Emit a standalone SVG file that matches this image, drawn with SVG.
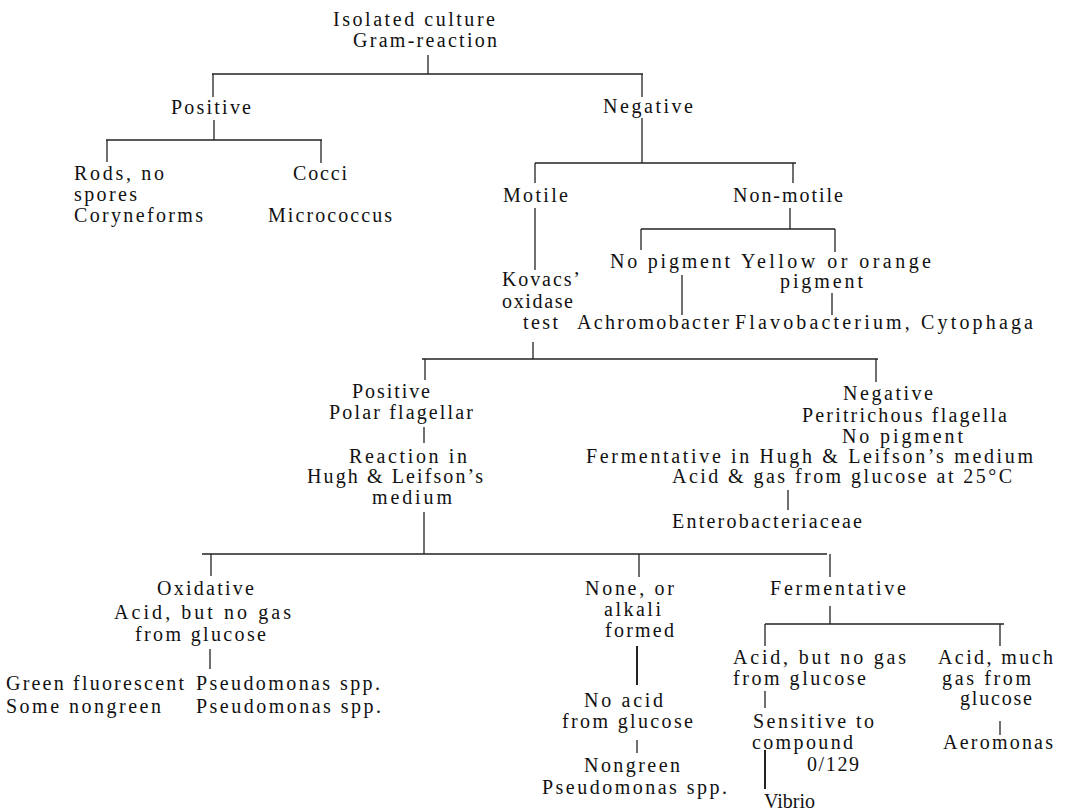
<svg xmlns="http://www.w3.org/2000/svg" width="1067" height="812" viewBox="0 0 1067 812">
<style>
text{font-family:"Liberation Serif","Times New Roman",serif;font-size:20px;fill:#111;}
.c line{stroke:#222;stroke-width:1.3;fill:none;}
.c line.b{stroke-width:2;}
</style>
<rect width="1067" height="812" fill="#fff"/>
<g id="connectors" class="c">
<line x1="428" y1="55" x2="428" y2="74"/>
<line x1="212" y1="74" x2="643" y2="74"/>
<line x1="213" y1="74" x2="213" y2="97"/>
<line x1="642" y1="74" x2="642" y2="97"/>
<line x1="214" y1="120" x2="214" y2="140"/>
<line x1="106" y1="140" x2="322" y2="140"/>
<line x1="107" y1="140" x2="107" y2="162"/>
<line x1="321" y1="140" x2="321" y2="163"/>
<line x1="642" y1="118" x2="642" y2="163"/>
<line x1="535" y1="163" x2="796" y2="163"/>
<line x1="535" y1="163" x2="535" y2="183"/>
<line x1="793" y1="163" x2="793" y2="183"/>
<line x1="535" y1="208" x2="535" y2="270"/>
<line x1="790" y1="208" x2="790" y2="229"/>
<line x1="641" y1="229" x2="835" y2="229"/>
<line x1="641" y1="229" x2="641" y2="250"/>
<line x1="835" y1="229" x2="835" y2="252"/>
<line x1="682" y1="275" x2="682" y2="315"/>
<line x1="832" y1="293" x2="832" y2="315"/>
<line x1="533" y1="342" x2="533" y2="359"/>
<line x1="422" y1="359" x2="878" y2="359"/>
<line x1="425" y1="359" x2="425" y2="380"/>
<line x1="876" y1="359" x2="876" y2="382"/>
<line x1="424" y1="427" x2="424" y2="443"/>
<line x1="424" y1="512" x2="424" y2="554"/>
<line x1="788" y1="490" x2="788" y2="510"/>
<line x1="202" y1="554" x2="827" y2="554"/>
<line x1="211" y1="554" x2="211" y2="576"/>
<line x1="639" y1="554" x2="639" y2="577"/>
<line x1="830" y1="554" x2="830" y2="577"/>
<line x1="210" y1="649" x2="210" y2="669"/>
<line class="b" x1="637" y1="646" x2="637" y2="685"/>
<line x1="637" y1="740" x2="637" y2="753"/>
<line x1="830" y1="606" x2="830" y2="624"/>
<line x1="765" y1="624" x2="1004" y2="624"/>
<line x1="765" y1="624" x2="765" y2="646"/>
<line x1="1000" y1="624" x2="1000" y2="646"/>
<line x1="765" y1="691" x2="765" y2="708"/>
<line class="b" x1="765" y1="750" x2="765" y2="789"/>
<line x1="1000" y1="721" x2="1000" y2="735"/>
</g>
<g id="root">
<text x="333" y="26" textLength="162" lengthAdjust="spacing">Isolated culture</text>
<text x="353" y="47" textLength="144" lengthAdjust="spacing">Gram-reaction</text>
</g>
<g id="gram-positive"><text x="171" y="114" textLength="80" lengthAdjust="spacing">Positive</text></g>
<g id="gram-negative"><text x="603" y="113" textLength="90" lengthAdjust="spacing">Negative</text></g>
<g id="rods">
<text x="74" y="180" textLength="90" lengthAdjust="spacing">Rods, no</text>
<text x="74" y="201" textLength="63" lengthAdjust="spacing">spores</text>
<text x="74" y="222" textLength="129" lengthAdjust="spacing">Coryneforms</text>
</g>
<g id="cocci">
<text x="293" y="180" textLength="54" lengthAdjust="spacing">Cocci</text>
<text x="268" y="222" textLength="124" lengthAdjust="spacing">Micrococcus</text>
</g>
<g id="motile"><text x="503" y="202" textLength="65" lengthAdjust="spacing">Motile</text></g>
<g id="non-motile"><text x="733" y="202" textLength="110" lengthAdjust="spacing">Non-motile</text></g>
<g id="no-pigment">
<text x="610" y="268" textLength="120" lengthAdjust="spacing">No pigment</text>
</g>
<g id="yellow-pigment">
<text x="741" y="268" textLength="190" lengthAdjust="spacing">Yellow or orange</text>
<text x="780" y="288" textLength="83" lengthAdjust="spacing">pigment</text>
</g>
<g id="kovacs">
<text x="502" y="286" textLength="78" lengthAdjust="spacing">Kovacs’</text>
<text x="502" y="308" textLength="71" lengthAdjust="spacing">oxidase</text>
<text x="523" y="329" textLength="35" lengthAdjust="spacing">test</text>
</g>
<g id="achromobacter"><text x="577" y="329" textLength="152" lengthAdjust="spacing">Achromobacter</text></g>
<g id="flavobacterium"><text x="735" y="329" textLength="298" lengthAdjust="spacing">Flavobacterium, Cytophaga</text></g>
<g id="oxidase-positive">
<text x="352" y="398" textLength="78" lengthAdjust="spacing">Positive</text>
<text x="329" y="419" textLength="144" lengthAdjust="spacing">Polar flagellar</text>
</g>
<g id="hugh-leifson">
<text x="349" y="463" textLength="118" lengthAdjust="spacing">Reaction in</text>
<text x="307" y="483" textLength="176" lengthAdjust="spacing">Hugh &amp; Leifson’s</text>
<text x="372" y="504" textLength="80" lengthAdjust="spacing">medium</text>
</g>
<g id="oxidase-negative">
<text x="843" y="400" textLength="90" lengthAdjust="spacing">Negative</text>
<text x="802" y="422" textLength="205" lengthAdjust="spacing">Peritrichous flagella</text>
<text x="842" y="443" textLength="121" lengthAdjust="spacing">No pigment</text>
<text x="586" y="463" textLength="447" lengthAdjust="spacing">Fermentative in Hugh &amp; Leifson’s medium</text>
<text x="672" y="483" textLength="340" lengthAdjust="spacing">Acid &amp; gas from glucose at 25°C</text>
</g>
<g id="enterobacteriaceae"><text x="672" y="528" textLength="190" lengthAdjust="spacing">Enterobacteriaceae</text></g>
<g id="oxidative">
<text x="157" y="595" textLength="97" lengthAdjust="spacing">Oxidative</text>
<text x="114" y="619" textLength="177" lengthAdjust="spacing">Acid, but no gas</text>
<text x="135" y="641" textLength="131" lengthAdjust="spacing">from glucose</text>
</g>
<g id="pseudomonas-oxidative">
<text x="6" y="690" textLength="178" lengthAdjust="spacing">Green fluorescent</text>
<text x="196" y="690" textLength="184" lengthAdjust="spacing">Pseudomonas spp.</text>
<text x="6" y="713" textLength="155" lengthAdjust="spacing">Some nongreen</text>
<text x="196" y="713" textLength="185" lengthAdjust="spacing">Pseudomonas spp.</text>
</g>
<g id="none-alkali">
<text x="585" y="595" textLength="89" lengthAdjust="spacing">None, or</text>
<text x="604" y="616" textLength="57" lengthAdjust="spacing">alkali</text>
<text x="605" y="637" textLength="69" lengthAdjust="spacing">formed</text>
</g>
<g id="no-acid">
<text x="584" y="707" textLength="79" lengthAdjust="spacing">No acid</text>
<text x="562" y="728" textLength="131" lengthAdjust="spacing">from glucose</text>
</g>
<g id="nongreen-pseudomonas">
<text x="584" y="772" textLength="96" lengthAdjust="spacing">Nongreen</text>
<text x="542" y="794" textLength="185" lengthAdjust="spacing">Pseudomonas spp.</text>
</g>
<g id="fermentative"><text x="770" y="595" textLength="136" lengthAdjust="spacing">Fermentative</text></g>
<g id="acid-no-gas">
<text x="733" y="664" textLength="173" lengthAdjust="spacing">Acid, but no gas</text>
<text x="733" y="685" textLength="133" lengthAdjust="spacing">from glucose</text>
</g>
<g id="sensitive">
<text x="753" y="728" textLength="121" lengthAdjust="spacing">Sensitive to</text>
<text x="752" y="749" textLength="101" lengthAdjust="spacing">compound</text>
<text x="807" y="771" textLength="52" lengthAdjust="spacing">0/129</text>
</g>
<g id="vibrio"><text x="764" y="808">Vibrio</text></g>
<g id="acid-much-gas">
<text x="938" y="664" textLength="115" lengthAdjust="spacing">Acid, much</text>
<text x="942" y="685" textLength="89" lengthAdjust="spacing">gas from</text>
<text x="960" y="705" textLength="72" lengthAdjust="spacing">glucose</text>
</g>
<g id="aeromonas"><text x="943" y="749" textLength="110" lengthAdjust="spacing">Aeromonas</text></g>
</svg>
